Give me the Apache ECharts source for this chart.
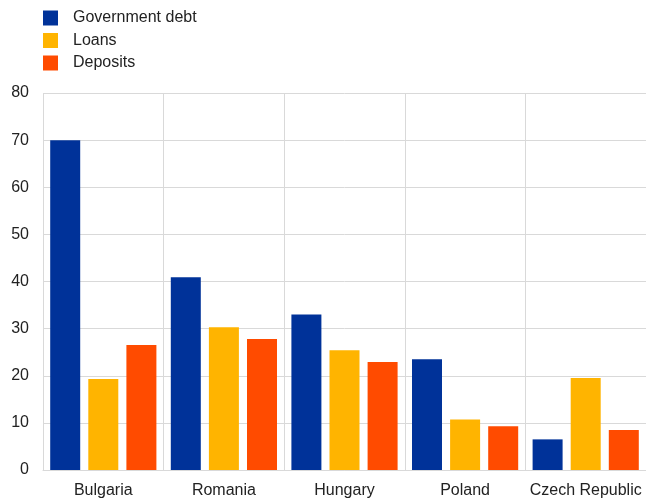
<!DOCTYPE html>
<html>
<head>
<meta charset="utf-8">
<script src="https://cdn.jsdelivr.net/npm/echarts@6/dist/echarts.min.js"></script>
<style>
  html, body { margin: 0; padding: 0; background: #fff; }
  #chart { width: 646px; height: 499px; }
</style>
</head>
<body>
<div id="chart"></div>
<script>
// categories and values
const countries = ['Bulgaria', 'Romania', 'Hungary', 'Poland', 'Czech Republic'];
const governmentDebt = [70.0, 40.9, 33.0, 23.5, 6.5];
const loans = [19.3, 30.3, 25.4, 10.7, 19.5];
const deposits = [26.5, 27.8, 22.9, 9.3, 8.5];
const yTicks = [0, 10, 20, 30, 40, 50, 60, 70, 80];

const font = 'Arial, "Liberation Sans", sans-serif';
const chart = echarts.init(document.getElementById('chart'));

const bar = (name, data, color) => ({
  name,
  type: 'bar',
  data,
  barWidth: 30,
  barGap: '27%',
  itemStyle: { color },
});

chart.setOption({
  animation: false,
  color: ['#003299', '#FFB400', '#FF4B00'],
  legend: {
    orient: 'vertical',
    left: 38,
    top: 5,
    itemWidth: 15,
    itemHeight: 15,
    itemGap: 6.5,
    icon: 'rect',
    textStyle: { fontFamily: font, fontSize: 16, color: '#222', padding: [0, 0, 0, 10] },
  },
  grid: { left: 43, right: -2, top: 93, bottom: 28, containLabel: false },
  xAxis: {
    type: 'category',
    data: countries,
    axisTick: { show: false },
    axisLine: { lineStyle: { color: '#d9d9d9' } },
    axisLabel: { interval: 0, fontFamily: font, fontSize: 16, color: '#222', margin: 13 },
    splitLine: { show: true, interval: 0, lineStyle: { color: '#d9d9d9' } },
  },
  yAxis: {
    type: 'value',
    min: yTicks[0],
    max: yTicks[yTicks.length - 1],
    interval: 10,
    axisLine: { show: false },
    axisTick: { show: false },
    axisLabel: { fontFamily: font, fontSize: 16, color: '#222', margin: 14 },
    splitLine: { lineStyle: { color: '#d9d9d9' } },
  },
  series: [
    bar('Government debt', governmentDebt, '#003299'),
    bar('Loans', loans, '#FFB400'),
    bar('Deposits', deposits, '#FF4B00'),
  ],
});
</script>
</body>
</html>
